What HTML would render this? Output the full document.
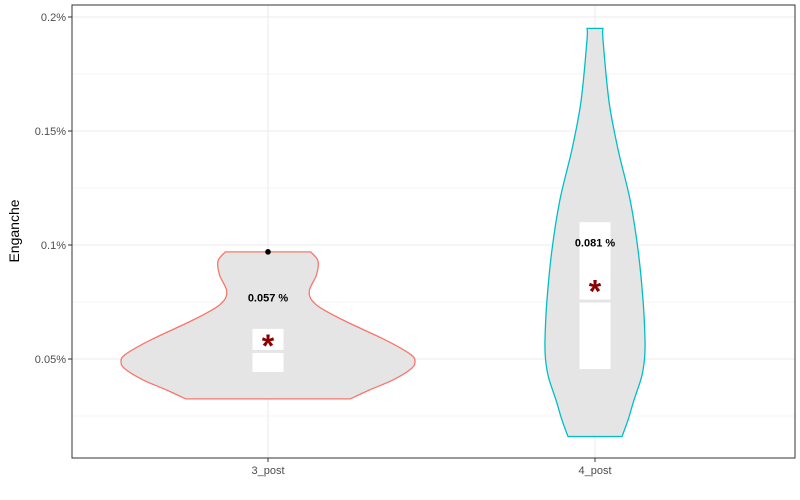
<!DOCTYPE html>
<html><head><meta charset="utf-8"><style>
body{margin:0;background:#fff;}
svg{font-family:"Liberation Sans",sans-serif;display:block}
</style></head><body>
<svg width="800" height="500" id="c"></svg>
<script>
const categories=["3_post","4_post"];
const colors=["#F8766D","#00BFC4"];
const means=[0.057,0.081];
const meanLabels=["0.057 %","0.081 %"];
const boxLow=[0.0443,0.0456];
const boxMid=[0.0533,0.0754];
const boxHigh=[0.0632,0.110];
const outliers=[[0.097],[]];
// density profiles: value (%) and relative half-width
const v1Vals=[0.097,0.093,0.0869,0.0794,0.0737,0.0671,0.0583,0.0520,0.0487,0.0455,0.0408,0.0364,0.0325];
const v1Dens=[0.29,0.34,0.33,0.28,0.33,0.51,0.80,0.97,1.00,0.97,0.85,0.69,0.56];
const v2Vals=[0.195,0.190,0.163,0.142,0.120,0.098,0.076,0.0585,0.0500,0.0420,0.0320,0.0232,0.0160];
const v2Dens=[0.16,0.16,0.28,0.46,0.70,0.86,0.96,1.00,0.99,0.93,0.78,0.66,0.54];
const vVals=[v1Vals,v2Vals],vDens=[v1Dens,v2Dens],vMaxHalf=[147,50];
const yTicks=[0.05,0.1,0.15,0.2];
const yTickLabels=["0.05%","0.1%","0.15%","0.2%"];
const yMinor=[0.025,0.075,0.125,0.175];

const L=72,R=795,T=5,B=458;
const y=v=>359-(v-0.05)*2280;
const x=i=>268+i*327;
const svg=document.getElementById('c');
const NS="http://www.w3.org/2000/svg";
function mk(t,a,p){const e=document.createElementNS(NS,t);for(const k in a)e.setAttribute(k,a[k]);(p||svg).appendChild(e);return e;}
let e;
e=mk('rect',{x:L,y:T,width:R-L,height:B-T,fill:'#fff'});


yMinor.forEach(v=>{e=mk('line',{x1:L,x2:R,y1:y(v),y2:y(v),stroke:'#f2f2f2','stroke-width':0.8});

});
yTicks.forEach((v,i)=>{e=mk('line',{x1:L,x2:R,y1:y(v),y2:y(v),stroke:'#ebebeb','stroke-width':1});


e=mk('line',{x1:L-4,x2:L,y1:y(v),y2:y(v),stroke:'#333'});


e=mk('text',{x:L-6,y:y(v)+4,'text-anchor':'end','font-size':11,fill:'#4d4d4d'});e.textContent=yTickLabels[i];

});
categories.forEach((c,i)=>{
e=mk('line',{x1:x(i),x2:x(i),y1:T,y2:B,stroke:'#ebebeb'});


const vv=vVals[i],dd=vDens[i],m=vMaxHalf[i];
let pts=vv.map((v,k)=>[x(i)+dd[k]*m,y(v)]);
let left=vv.map((v,k)=>[x(i)-dd[k]*m,y(v)]).reverse();
function seg(p){let d='M'+p[0][0]+','+p[0][1];for(let k=0;k<p.length-1;k++){const p0=p[k-1]||p[k],p1=p[k],p2=p[k+1],p3=p[k+2]||p2;
d+=' C'+(p1[0]+(p2[0]-p0[0])/6)+','+(p1[1]+(p2[1]-p0[1])/6)+' '+(p2[0]-(p3[0]-p1[0])/6)+','+(p2[1]-(p3[1]-p1[1])/6)+' '+p2[0]+','+p2[1];}return d;}
let d=seg(pts)+' L'+left[0][0]+','+left[0][1]+seg(left).replace(/^M[^ ]+/,'')+' Z';
e=mk('path',{d:d,fill:'#e5e5e5',stroke:colors[i],'stroke-width':1.3});


e=mk('rect',{x:x(i)-15.5,y:y(boxMid[i])+1.5,width:31,height:y(boxLow[i])-y(boxMid[i])-1.5,fill:'#fff'});


e=mk('rect',{x:x(i)-15.5,y:y(boxHigh[i]),width:31,height:y(boxMid[i])-y(boxHigh[i])-1.5,fill:'#fff'});


outliers[i].forEach(o=>{e=mk('circle',{cx:x(i),cy:y(o),r:2.8,fill:'#000'});

});
e=mk('text',{x:x(i),y:y(means[i])+14,'text-anchor':'middle','font-size':32,'font-weight':'bold',fill:'#8b0000'});e.textContent='*';


e=mk('text',{x:x(i),y:y(means[i]+0.02)+4,'text-anchor':'middle','font-size':11,'font-weight':'bold',fill:'#000'});e.textContent=meanLabels[i];


e=mk('line',{x1:x(i),x2:x(i),y1:B,y2:B+4,stroke:'#333'});


e=mk('text',{x:x(i),y:474,'text-anchor':'middle','font-size':11,fill:'#4d4d4d'});e.textContent=c;


});
e=mk('rect',{x:L,y:T,width:R-L,height:B-T,fill:'none',stroke:'#333','stroke-width':1});


e=mk('text',{x:19,y:231,'text-anchor':'middle','font-size':14,fill:'#000',transform:'rotate(-90 19 231)'});e.textContent='Enganche';


</script>
</body></html>
